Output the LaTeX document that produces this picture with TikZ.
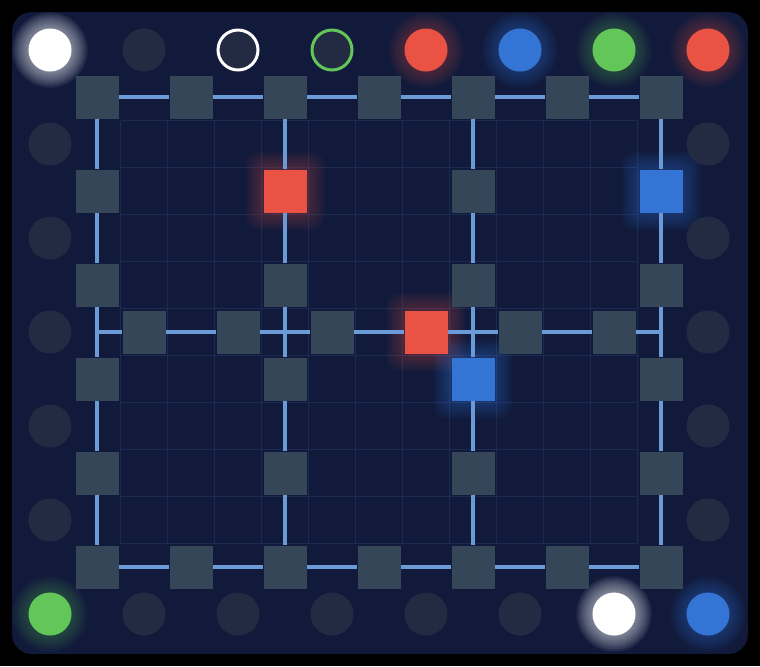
\documentclass[tikz,border=0pt]{standalone}
\usetikzlibrary{positioning}
\definecolor{pagebg}{HTML}{000000}
\definecolor{boardbg}{HTML}{111A3B}
\definecolor{gridblue}{HTML}{1C2A52}
\definecolor{railblue}{HTML}{6B9BD7}
\definecolor{tilefill}{HTML}{354659}
\definecolor{slotfill}{HTML}{222B42}
\definecolor{pegred}{HTML}{EA5344}
\definecolor{pegblue}{HTML}{3374D5}
\definecolor{peggreen}{HTML}{63C658}

% soft halo behind a round peg: position, colour, opacity per ring
\newcommand{\glowdot}[3]{%
  \foreach \g in {1,...,8}
    \fill[#2, opacity=#3] (#1) circle ({0.2cm+0.022cm*\g});}
% soft halo behind a lit tile
\newcommand{\glowtile}[3]{%
  \foreach \g in {1,...,8}
    \node[fill=#2, opacity=#3, inner sep=0pt, rounded corners=4pt,
          minimum size={0.43cm+0.045cm*\g}] at (#1) {};}

\begin{document}
\begin{tikzpicture}[
    x=0.47cm, y=-0.47cm,
    tile/.style={rectangle, fill=tilefill, inner sep=0pt,
                 minimum size=0.43cm},
    redtile/.style={tile, fill=pegred},
    bluetile/.style={tile, fill=pegblue},
    slot/.style={circle, fill=slotfill, inner sep=0pt,
                 minimum size=0.43cm},
    ringslot/.style={slot, draw=#1, line width=0.03cm,
                     minimum size=0.40cm},
    rail/.style={line width=0.04cm, color=railblue},
    gridline/.style={line width=0.018cm, color=gridblue},
  ]

  % -----------------------------------------------------------
  % Page and board
  % -----------------------------------------------------------
  \fill[pagebg] ({-50/47},{-50/47}) rectangle ({710/47},{616/47});
  \useasboundingbox ({-50/47},{-50/47}) rectangle ({710/47},{616/47});
  \fill[boardbg, rounded corners=0.2cm]
       ({-38/47},{-38/47}) rectangle ({698/47},{604/47});

  % faint inner grid
  \foreach \gx in {1.5,2.5,...,12.5}
    \draw[gridline] (\gx,1.5) -- (\gx,10.5);
  \foreach \gy in {1.5,2.5,...,10.5}
    \draw[gridline] (1.5,\gy) -- (12.5,\gy);

  % -----------------------------------------------------------
  % Halos (behind the lit pegs and tiles)
  % -----------------------------------------------------------
  \glowdot{0,0}{white}{0.08}
  \glowdot{12,12}{white}{0.08}
  \glowdot{8,0}{pegred}{0.04}
  \glowdot{14,0}{pegred}{0.04}
  \glowdot{10,0}{pegblue}{0.05}
  \glowdot{14,12}{pegblue}{0.05}
  \glowdot{12,0}{peggreen}{0.04}
  \glowdot{0,12}{peggreen}{0.04}
  \glowtile{5,3}{pegred}{0.04}
  \glowtile{8,6}{pegred}{0.04}
  \glowtile{13,3}{pegblue}{0.05}
  \glowtile{9,7}{pegblue}{0.05}

  % -----------------------------------------------------------
  % Tiles: outer frame, two inner columns, middle row
  % -----------------------------------------------------------
  \foreach \x in {1,3,...,13} {
    \node[tile] (s\x-1)  at (\x,1)  {};
    \node[tile] (s\x-11) at (\x,11) {};
  }
  \foreach \x/\y in {1/3, 1/5, 1/7, 1/9,
                     5/5, 5/7, 5/9,
                     9/3, 9/5, 9/9,
                     13/5, 13/7, 13/9}
    \node[tile] (s\x-\y) at (\x,\y) {};
  \node[redtile]  (s5-3)  at (5,3)  {};
  \node[bluetile] (s13-3) at (13,3) {};
  \node[bluetile] (s9-7)  at (9,7)  {};

  \foreach \x in {2,4,6,10,12}
    \node[tile] (s\x-6) at (\x,6) {};
  \node[redtile] (s8-6) at (8,6) {};

  % -----------------------------------------------------------
  % Rails between tiles
  % -----------------------------------------------------------
  \foreach \x/\nx in {1/3, 3/5, 5/7, 7/9, 9/11, 11/13} {
    \draw[rail] (s\x-1)  -- (s\nx-1);
    \draw[rail] (s\x-11) -- (s\nx-11);
  }
  \foreach \x in {1,5,9,13} {
    \foreach \y/\ny in {1/3, 3/5, 5/7, 7/9, 9/11} {
      \draw[rail] (s\x-\y) -- (s\x-\ny);
    }
  }

  \coordinate (midleft)  at (1,6);
  \coordinate (midright) at (13,6);
  \draw[rail] (midleft) -- (s2-6);
  \foreach \x/\nx in {2/4, 4/6, 6/8, 8/10, 10/12}
    \draw[rail] (s\x-6) -- (s\nx-6);
  \draw[rail] (s12-6) -- (midright);

  % -----------------------------------------------------------
  % Pegs round the edge
  % -----------------------------------------------------------
  \node[slot, fill=white]     (c0-0)  at (0,0)  {};
  \node[slot]                 (c2-0)  at (2,0)  {};
  \node[ringslot=white]       (c4-0)  at (4,0)  {};
  \node[ringslot=peggreen]    (c6-0)  at (6,0)  {};
  \node[slot, fill=pegred]    (c8-0)  at (8,0)  {};
  \node[slot, fill=pegblue]   (c10-0) at (10,0) {};
  \node[slot, fill=peggreen]  (c12-0) at (12,0) {};
  \node[slot, fill=pegred]    (c14-0) at (14,0) {};

  \foreach \y in {2,4,...,10} {
    \node[slot] (c0-\y)  at (0,\y)  {};
    \node[slot] (c14-\y) at (14,\y) {};
  }

  \node[slot, fill=peggreen]  (c0-12)  at (0,12)  {};
  \foreach \x in {2,4,...,10}
    \node[slot] (c\x-12) at (\x,12) {};
  \node[slot, fill=white]     (c12-12) at (12,12) {};
  \node[slot, fill=pegblue]   (c14-12) at (14,12) {};

\end{tikzpicture}
\end{document}
